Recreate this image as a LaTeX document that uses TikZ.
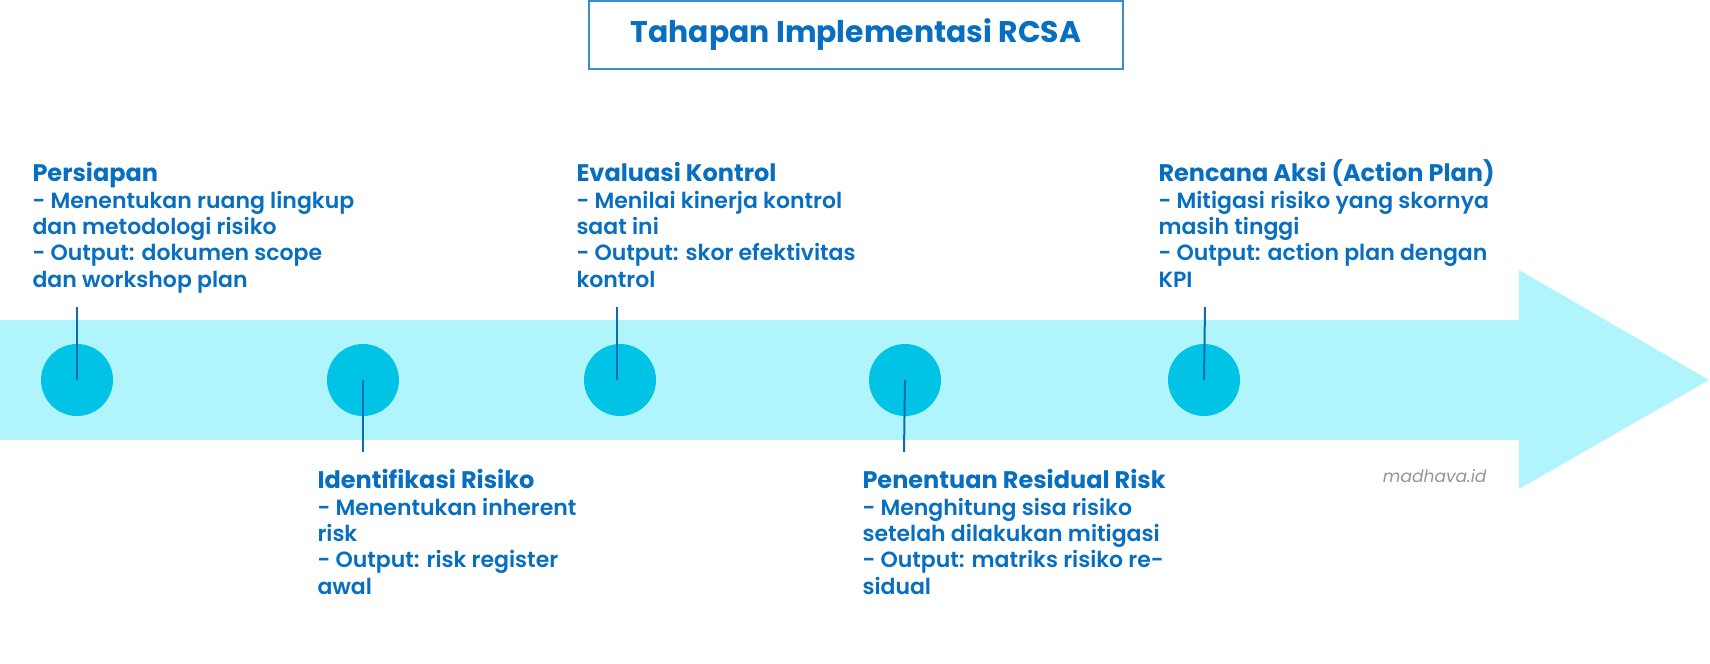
\documentclass[tikz,border=0pt]{standalone}
\usepackage{fontspec}
\setmainfont{Poppins}[UprightFont={* SemiBold},BoldFont={* Bold},ItalicFont={* Italic}]
\definecolor{bandcyan}{RGB}{176,245,252}
\definecolor{dotcyan}{RGB}{0,195,229}
\definecolor{stemblue}{RGB}{11,107,181}
\definecolor{textblue}{RGB}{8,111,192}
\definecolor{boxblue}{RGB}{58,143,208}
\definecolor{markgray}{RGB}{150,150,150}
\newcommand{\stephead}[1]{{\bfseries\fontsize{18}{19.7}\selectfont #1}}
\tikzset{
	step dot/.style={circle,fill=dotcyan,draw opacity=0,minimum size=54pt,inner sep=0pt},
	step text/.style={anchor=base west,inner sep=0pt,align=left,color=textblue,font=\fontsize{16.5}{19.7}\selectfont}}
\tikzset{every picture/.style={line width=0.75pt}}

\begin{document}
\begin{tikzpicture}[x=0.75pt,y=0.75pt,yscale=-1,xscale=1]
	\useasboundingbox (0,0) rectangle (1710,664);
	
	%Shape: Arrow
	\draw [fill=bandcyan,draw opacity=0] (0,320) -- (1519,320) -- (1519,270) -- (1709,380) -- (1519,489) -- (1519,440) -- (0,440) -- cycle ;
	
	%Shape: Rectangle
	\draw [color=boxblue,line width=1pt] (589,1) rectangle (1123,69) ;
	% Text Node
	\draw (856,35) node (title) [inner sep=0pt,color=textblue,font=\bfseries\fontsize{22.4}{26}\selectfont] {Tahapan Implementasi RCSA};
	
	%Shape: Circle
	\draw (77,380) node (c1) [step dot] {};
	\draw (363,380) node (c2) [step dot] {};
	\draw (620,380) node (c3) [step dot] {};
	\draw (905,380) node (c4) [step dot] {};
	\draw (1204,380) node (c5) [step dot] {};
	
	\coordinate (s1) at (77,307);
	\coordinate (s2) at (363,452);
	\coordinate (s3) at (617,307);
	\coordinate (s4) at (904,452);
	\coordinate (s5) at (1205,307);
	
	%Straight Lines
	\draw [color=stemblue,line width=1.5pt] (s1) -- (c1.center) ;
	\draw [color=stemblue,line width=1.5pt] (c2.center) -- (s2) ;
	\draw [color=stemblue,line width=1.5pt] (s3) -- (s3 |- c3.center) ;
	\draw [color=stemblue,line width=1.5pt] (c4.center) -- (s4) ;
	\draw [color=stemblue,line width=1.5pt] (s5) -- (c5.center) ;
	
	% Text Node (base = last line)
	\draw (32,287) node (persiapan) [step text] {\stephead{Persiapan}\\- Menentukan ruang lingkup\\dan metodologi risiko\\- Output: dokumen scope\\dan workshop plan};
	% Text Node
	\draw (317,594) node (identifikasi) [step text] {\stephead{Identifikasi Risiko}\\- Menentukan inherent\\risk\\- Output: risk register\\awal};
	% Text Node
	\draw (576,287) node (evaluasi) [step text] {\stephead{Evaluasi Kontrol}\\- Menilai kinerja kontrol\\saat ini\\- Output: skor efektivitas\\kontrol};
	% Text Node
	\draw (862,594) node (residual) [step text] {\stephead{Penentuan Residual Risk}\\- Menghitung sisa risiko\\setelah dilakukan mitigasi\\- Output: matriks risiko re-\\sidual};
	% Text Node
	\draw (1158,287) node (rencana) [step text] {\stephead{Rencana Aksi (Action Plan)}\\- Mitigasi risiko yang skornya\\masih tinggi\\- Output: action plan dengan\\KPI};
	
	% Text Node
	\draw (1487,482) node (mark) [anchor=base east,inner sep=0pt,color=markgray,font=\itshape\fontsize{12.8}{15}\selectfont] {madhava.id};
	
\end{tikzpicture}
\end{document}
